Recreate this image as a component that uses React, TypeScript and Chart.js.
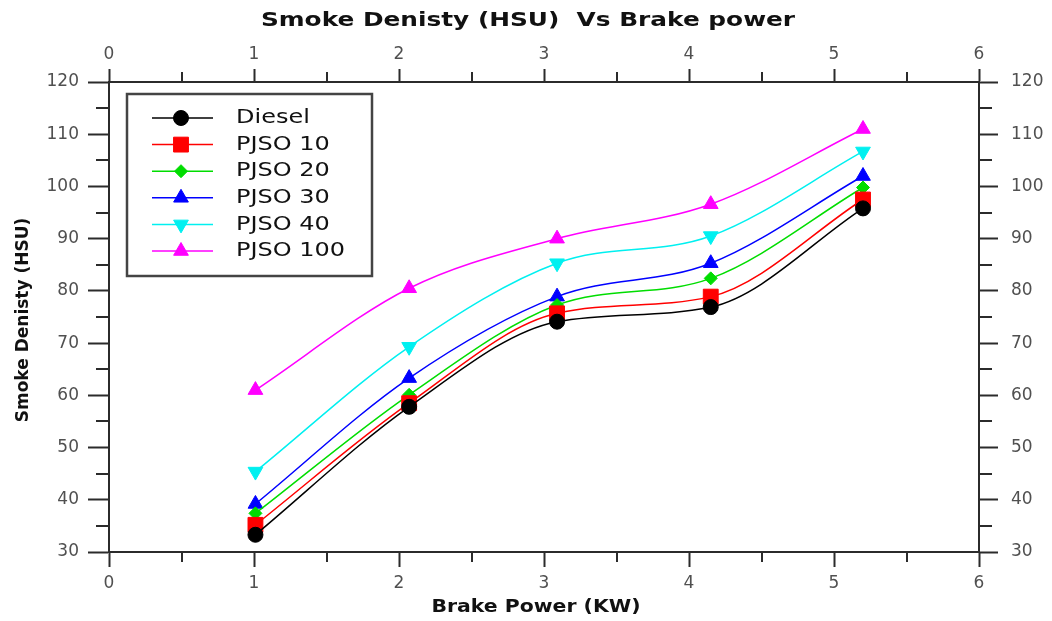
import React, { useEffect, useRef } from 'react';
import { Chart, registerables } from 'chart.js';
import { drawPoint } from 'chart.js/helpers';

Chart.register(...registerables);

// Brake power (KW) at each test point
const brakePower = [1.01, 2.07, 3.09, 4.15, 5.2];

// Smoke density (HSU) for each fuel blend
const diesel = [33.3, 57.8, 74.1, 76.9, 95.8];
const pjso10 = [35.2, 58.5, 75.7, 78.9, 97.5];
const pjso20 = [37.4, 60.1, 77.3, 82.4, 99.8];
const pjso30 = [39.2, 63.3, 78.9, 85.3, 102.0];
const pjso40 = [45.4, 69.3, 85.3, 90.5, 106.7];
const pjso100 = [61.0, 80.5, 90.0, 96.6, 111.0];

const seriesLabels = ['Diesel', 'PJSO 10', 'PJSO 20', 'PJSO 30', 'PJSO 40', 'PJSO 100'];
const seriesValues = [diesel, pjso10, pjso20, pjso30, pjso40, pjso100];

// Axis ranges
const xRange = { min: 0, max: 6, step: 1 };
const yRange = { min: 30, max: 120, step: 10 };

const chartTitle = 'Smoke Denisty (HSU)  Vs Brake power';
const xTitle = 'Brake Power (KW)';
const yTitle = 'Smoke Denisty (HSU)';

// Marker styling per series
const seriesColors = ['#000000', '#ff0000', '#00dd00', '#0000ff', '#00f0f0', '#ff00ff'];
const seriesPointStyles = ['circle', 'rect', 'rectRot', 'triangle', 'triangle', 'triangle'];
const seriesPointRadius = [7.5, 10.5, 6.5, 8.5, 8.5, 8.5];
const seriesPointRotation = [0, 0, 0, 0, 180, 0];

const AXIS_COLOR = '#2b2b2b';
const TICK_FONT = { family: '"DejaVu Sans", Verdana, sans-serif', size: 17 };
const TICK_COLOR = '#505050';

// Short ticks halfway between the labelled ones, on all four sides
const minorTicksPlugin = {
  id: 'minorTicks',
  afterDraw(chart: any) {
    const ctx = chart.ctx;
    ctx.save();
    ctx.strokeStyle = AXIS_COLOR;
    ctx.lineWidth = 2;
    for (const id of ['x', 'x2', 'y', 'y2']) {
      const s = chart.scales[id];
      const len = id.startsWith('x') ? 10 : 13;
      const ticks = s.ticks;
      for (let i = 0; i < ticks.length - 1; i++) {
        const v = (ticks[i].value + ticks[i + 1].value) / 2;
        const p = Math.round(s.getPixelForValue(v));
        ctx.beginPath();
        if (id === 'x') {
          ctx.moveTo(p, s.top);
          ctx.lineTo(p, s.top + len);
        } else if (id === 'x2') {
          ctx.moveTo(p, s.bottom);
          ctx.lineTo(p, s.bottom - len);
        } else if (id === 'y') {
          ctx.moveTo(s.right, p);
          ctx.lineTo(s.right - len, p);
        } else {
          ctx.moveTo(s.left, p);
          ctx.lineTo(s.left + len, p);
        }
        ctx.stroke();
      }
    }
    ctx.restore();
  },
};

function wideText(ctx: CanvasRenderingContext2D, text: string, x: number, y: number, stretch: number, rotate = 0) {
  ctx.save();
  ctx.translate(x, y);
  if (rotate) ctx.rotate(rotate);
  ctx.scale(stretch, 1);
  ctx.textAlign = 'center';
  ctx.textBaseline = 'middle';
  ctx.fillText(text, 0, 0);
  ctx.restore();
}

// Chart title and axis titles
const titlesPlugin = {
  id: 'titles',
  afterDraw(chart: any) {
    const ctx = chart.ctx;
    const area = chart.chartArea;
    const cx = (area.left + area.right) / 2;
    const cy = (area.top + area.bottom) / 2;
    ctx.save();
    ctx.fillStyle = '#111111';
    ctx.font = 'bold 20px "DejaVu Sans", Verdana, sans-serif';
    wideText(ctx, chartTitle, cx - 16, 21, 1.24);
    ctx.font = 'bold 17px "DejaVu Sans", Verdana, sans-serif';
    wideText(ctx, xTitle, cx - 8, 608, 1.2);
    ctx.font = 'bold 17px "DejaVu Sans", Verdana, sans-serif';
    wideText(ctx, yTitle, 24, cy + 3, 1.0, -Math.PI / 2);
    ctx.restore();
  },
};

// Boxed legend with a line sample through each marker
const boxLegendPlugin = {
  id: 'boxLegend',
  afterDraw(chart: any) {
    const ctx = chart.ctx;
    const area = chart.chartArea;
    const left = area.left + 18;
    const top = area.top + 12;
    const width = 245;
    const height = 182;
    const rowStart = top + 24;
    const rowGap = 26.6;
    ctx.save();
    ctx.strokeStyle = '#444444';
    ctx.lineWidth = 2.5;
    ctx.strokeRect(left, top, width, height);
    chart.data.datasets.forEach((ds: any, i: number) => {
      const y = rowStart + i * rowGap;
      ctx.strokeStyle = ds.borderColor;
      ctx.fillStyle = ds.backgroundColor;
      ctx.lineWidth = 1.5;
      ctx.beginPath();
      ctx.moveTo(left + 25, y);
      ctx.lineTo(left + 86, y);
      ctx.stroke();
      ctx.lineWidth = 1;
      drawPoint(ctx, {
        pointStyle: ds.pointStyle,
        radius: ds.pointRadius,
        rotation: ds.pointRotation,
        borderWidth: 1,
      } as any, left + 54, y);
      ctx.fillStyle = '#111111';
      ctx.font = '20px "DejaVu Sans", Verdana, sans-serif';
      ctx.save();
      ctx.translate(left + 109, y);
      ctx.scale(1.2, 1);
      ctx.textAlign = 'left';
      ctx.textBaseline = 'middle';
      ctx.fillText(ds.label, 0, 0);
      ctx.restore();
    });
    ctx.restore();
  },
};

function axisBase(tickLength: number) {
  return {
    grid: {
      drawOnChartArea: false,
      drawTicks: true,
      tickLength,
      tickColor: AXIS_COLOR,
      tickWidth: 2,
    },
    border: { display: true, color: AXIS_COLOR, width: 2 },
  };
}

export default function App() {
  const canvasRef = useRef<HTMLCanvasElement | null>(null);

  useEffect(() => {
    if (!canvasRef.current) return;
    const datasets = seriesLabels.map((label, i) => ({
      label,
      data: brakePower.map((x, j) => ({ x, y: seriesValues[i][j] })),
      borderColor: seriesColors[i],
      backgroundColor: seriesColors[i],
      borderWidth: 1.5,
      pointStyle: seriesPointStyles[i],
      pointRadius: seriesPointRadius[i],
      pointRotation: seriesPointRotation[i],
      pointBorderWidth: 1,
      pointHoverRadius: seriesPointRadius[i],
      cubicInterpolationMode: 'monotone',
      fill: false,
    }));

    const xTicks = {
      stepSize: xRange.step,
      color: TICK_COLOR,
      font: TICK_FONT,
      maxRotation: 0,
    };
    const yTicks = {
      stepSize: yRange.step,
      color: TICK_COLOR,
      font: TICK_FONT,
    };

    const chart = new Chart(canvasRef.current, {
      type: 'line',
      data: { datasets },
      options: {
        responsive: false,
        animation: false,
        layout: { padding: 0 },
        plugins: {
          legend: { display: false },
          title: { display: false },
          tooltip: { enabled: false },
        },
        scales: {
          x: {
            type: 'linear',
            position: 'bottom',
            min: xRange.min,
            max: xRange.max,
            ...axisBase(15),
            ticks: { ...xTicks, padding: 6 },
            afterFit: (s: any) => { s.height = 69; },
          },
          x2: {
            type: 'linear',
            position: 'top',
            min: xRange.min,
            max: xRange.max,
            ...axisBase(13),
            ticks: { ...xTicks, padding: 4 },
            afterFit: (s: any) => { s.height = 82; },
          },
          y: {
            type: 'linear',
            position: 'left',
            min: yRange.min,
            max: yRange.max,
            ...axisBase(21),
            ticks: { ...yTicks, padding: 9 },
            afterFit: (s: any) => { s.width = 109; },
          },
          y2: {
            type: 'linear',
            position: 'right',
            min: yRange.min,
            max: yRange.max,
            ...axisBase(19),
            ticks: { ...yTicks, padding: 13 },
            afterFit: (s: any) => { s.width = 73; },
          },
        },
      } as any,
      plugins: [minorTicksPlugin, titlesPlugin, boxLegendPlugin],
    });
    return () => chart.destroy();
  }, []);

  return (
    <div style={{ position: 'absolute', left: 0, top: 0, width: 1052, height: 621, background: '#ffffff' }}>
      <canvas ref={canvasRef} width={1052} height={621} />
    </div>
  );
}
